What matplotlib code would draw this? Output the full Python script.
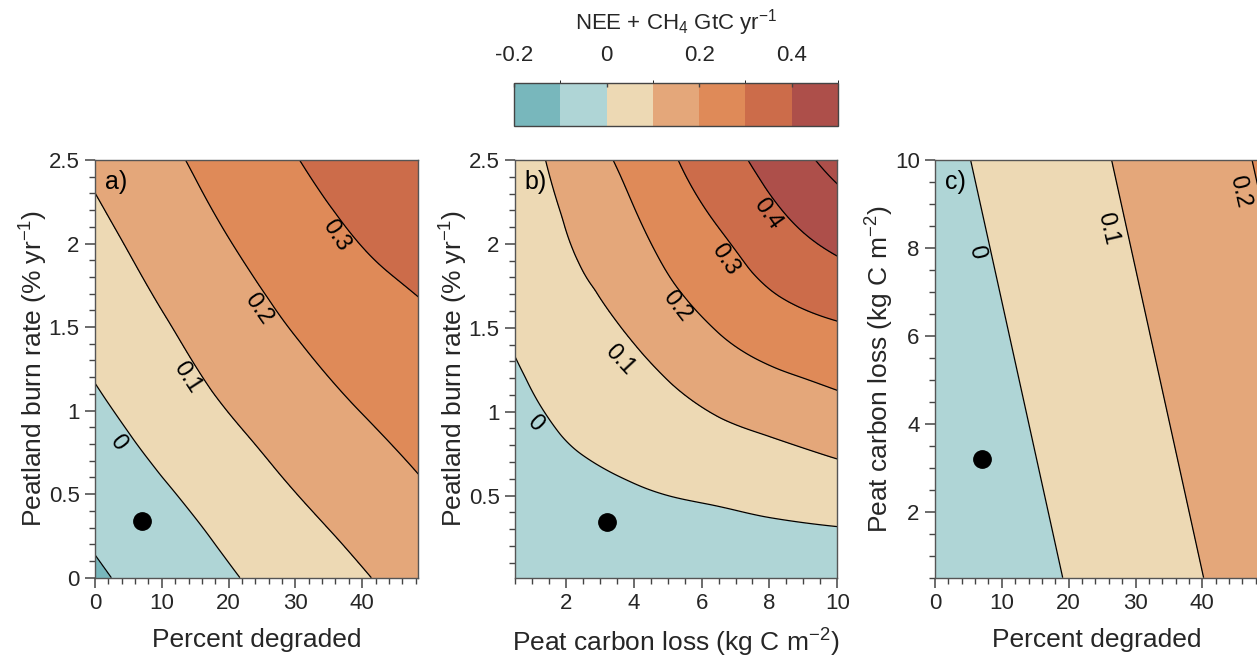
import numpy as np
import matplotlib
matplotlib.use('Agg')
import matplotlib.pyplot as plt
import matplotlib.colorbar as mcolorbar
import matplotlib.tri as mtri
from matplotlib.colors import ListedColormap, BoundaryNorm
from matplotlib.ticker import MultipleLocator, FormatStrFormatter

plt.rcParams['font.family'] = ['Liberation Sans', 'DejaVu Sans']
plt.rcParams['mathtext.fontset'] = 'custom'
plt.rcParams['mathtext.rm'] = 'Liberation Sans'
plt.rcParams['mathtext.it'] = 'Liberation Sans:italic'
plt.rcParams['axes.unicode_minus'] = False

# --- data (NEE + CH4, GtC/yr) ---
# a) percent degraded vs burn rate
pct_a = [0, 8, 16, 24, 32, 40, 48.4]
burn_a = [0, 0.5, 1.0, 1.5, 2.0, 2.5]
flux_a = [
    [-0.113, -0.071, -0.030, 0.012, 0.052, 0.093, 0.135],
    [-0.065, -0.022, 0.021, 0.066, 0.109, 0.148, 0.188],
    [-0.016, 0.031, 0.079, 0.123, 0.165, 0.202, 0.236],
    [0.031, 0.079, 0.127, 0.174, 0.215, 0.252, 0.283],
    [0.074, 0.123, 0.173, 0.219, 0.261, 0.302, 0.330],
    [0.117, 0.166, 0.215, 0.262, 0.308, 0.350, 0.378],
]

# b) peat carbon loss vs burn rate
closs_b = [0.5, 1.5, 2.5, 3.5, 5, 6.5, 8, 10]
burn_b = [0, 0.25, 0.5, 0.75, 1.0, 1.5, 2.0, 2.5]
flux_b = [
    [-0.069, -0.065, -0.066, -0.067, -0.068, -0.069, -0.072, -0.078],
    [-0.056, -0.048, -0.044, -0.040, -0.034, -0.029, -0.023, -0.016],
    [-0.043, -0.031, -0.022, -0.013, 0.000, 0.011, 0.026, 0.046],
    [-0.030, -0.014, 0.001, 0.014, 0.036, 0.059, 0.078, 0.108],
    [-0.017, 0.003, 0.024, 0.041, 0.072, 0.106, 0.134, 0.170],
    [0.009, 0.037, 0.069, 0.096, 0.150, 0.206, 0.252, 0.290],
    [0.034, 0.071, 0.115, 0.151, 0.225, 0.286, 0.349, 0.418],
    [0.060, 0.105, 0.160, 0.205, 0.284, 0.358, 0.432, 0.531],
]

# c) percent degraded vs peat carbon loss
pct_c = [0, 24, 48.4]
closs_c = [0.5, 5, 10]
flux_c = [
    [-0.0905, 0.0232, 0.139],
    [-0.0596, 0.0541, 0.170],
    [-0.0252, 0.0885, 0.2046],
]

# present-day estimate (black dot)
cur_pct = 7.0
cur_burn = 0.34
cur_closs = 3.2

fill_levels = [-0.2, -0.1, 0, 0.1, 0.2, 0.3, 0.4, 0.5, 0.6]
cmap_colors = ['#78b7bc', '#afd5d6', '#edd9b4', '#e4a77a',
               '#df8a58', '#cc6c4a', '#ad4f4a']
cbar_ticks = [-0.2, 0, 0.2, 0.4]

txt_col = '#262626'
W, H = 1257, 662
fig = plt.figure(figsize=(W / 100, H / 100), dpi=100)


def add_ax(x0, x1, y0=160, y1=577.7):
    return fig.add_axes([x0 / W, 1 - y1 / H, (x1 - x0) / W, (y1 - y0) / H])


def style(ax):
    for s in ax.spines.values():
        s.set_color('#555555')
        s.set_linewidth(1.0)
    ax.tick_params(which='both', direction='out', colors='#444444',
                   labelcolor=txt_col, labelsize=16, top=False, right=False)
    ax.tick_params(which='major', length=7, width=1.1, pad=4)
    ax.tick_params(which='minor', length=4, width=1.0)
    ax.xaxis.set_major_formatter(FormatStrFormatter('%g'))
    ax.yaxis.set_major_formatter(FormatStrFormatter('%g'))


def panel(ax, x, y, z, line_levels, labels, letter):
    # smooth the coarse grid with matplotlib's own cubic tri interpolation
    x = np.asarray(x, float)
    y = np.asarray(y, float)
    gx, gy = np.meshgrid((x - x[0]) / (x[-1] - x[0]),
                         (y - y[0]) / (y[-1] - y[0]))
    zz = np.asarray(z, float).ravel()
    tri = mtri.Triangulation(gx.ravel(), gy.ravel())
    interp = mtri.CubicTriInterpolator(tri, zz, kind='min_E')
    tri_f, z_f = mtri.UniformTriRefiner(tri).refine_field(
        zz, triinterpolator=interp, subdiv=4)
    tri_d = mtri.Triangulation(tri_f.x * (x[-1] - x[0]) + x[0],
                               tri_f.y * (y[-1] - y[0]) + y[0],
                               tri_f.triangles)
    ax.tricontourf(tri_d, z_f, levels=fill_levels,
                   colors=cmap_colors + [cmap_colors[-1]])
    ax.tricontour(tri_d, z_f, levels=line_levels, colors='k',
                  linewidths=0.9, linestyles='solid')
    for txt, lx, ly, rot in labels:
        ax.text(lx, ly, txt, rotation=rot, rotation_mode='anchor',
                ha='center', va='center', fontsize=17, color='k')
    ax.text(0.03, 0.975, letter, transform=ax.transAxes, ha='left', va='top',
            fontsize=18, color='k')
    style(ax)


# a)
ax1 = add_ax(95, 418.3)
panel(ax1, pct_a, burn_a, flux_a, [-0.1, 0, 0.1, 0.2, 0.3],
      [('0', 3.35, 0.81, -53), ('0.1', 13.8, 1.2, -57),
       ('0.2', 24.4, 1.61, -55), ('0.3', 36.1, 2.05, -57)], 'a)')
ax1.plot(cur_pct, cur_burn, 'o', color='k', ms=12.5)
ax1.set_xlim(0, 48.4)
ax1.set_ylim(0, 2.5)
ax1.set_xticks([0, 10, 20, 30, 40])
ax1.set_yticks([0, 0.5, 1, 1.5, 2, 2.5])
ax1.xaxis.set_minor_locator(MultipleLocator(2))
ax1.yaxis.set_minor_locator(MultipleLocator(0.1))
ax1.set_xlabel('Percent degraded', fontsize=19, color=txt_col, labelpad=10)
ax1.set_ylabel('Peatland burn rate (% yr$^{-1}$)', fontsize=19,
               color=txt_col, labelpad=-1)

# b)
ax2 = add_ax(515, 837.3)
panel(ax2, closs_b, burn_b, flux_b, [0, 0.1, 0.2, 0.3, 0.4, 0.5],
      [('0', 1.09, 0.93, -45), ('0.1', 3.59, 1.31, -47),
       ('0.2', 5.27, 1.63, -52), ('0.3', 6.70, 1.91, -57),
       ('0.4', 7.93, 2.18, -55)], 'b)')
ax2.plot(cur_closs, cur_burn, 'o', color='k', ms=12.5)
ax2.set_xlim(0.5, 10)
ax2.set_ylim(0.01, 2.5)
ax2.set_xticks([2, 4, 6, 8, 10])
ax2.set_yticks([0.5, 1, 1.5, 2, 2.5])
ax2.xaxis.set_minor_locator(MultipleLocator(0.5))
ax2.yaxis.set_minor_locator(MultipleLocator(0.1))
ax2.set_xlabel('Peat carbon loss (kg C m$^{-2}$)', fontsize=19,
               color=txt_col, labelpad=9)
ax2.set_ylabel('Peatland burn rate (% yr$^{-1}$)', fontsize=19,
               color=txt_col, labelpad=-1)

# c)
ax3 = add_ax(935, 1258.5)
panel(ax3, pct_c, closs_c, flux_c, [0, 0.1, 0.2],
      [('0', 6.2, 7.9, -77), ('0.1', 25.8, 8.45, -77),
       ('0.2', 45.6, 9.27, -77)], 'c)')
ax3.plot(cur_pct, cur_closs, 'o', color='k', ms=12.5)
ax3.set_xlim(0, 48.4)
ax3.set_ylim(0.5, 10)
ax3.set_xticks([0, 10, 20, 30, 40])
ax3.set_yticks([2, 4, 6, 8, 10])
ax3.xaxis.set_minor_locator(MultipleLocator(2))
ax3.yaxis.set_minor_locator(MultipleLocator(0.5))
ax3.set_xlabel('Percent degraded', fontsize=19, color=txt_col, labelpad=10)
ax3.set_ylabel('Peat carbon loss (kg C m$^{-2}$)', fontsize=19,
               color=txt_col, labelpad=-1)

# colour bar
cax = fig.add_axes([514 / W, 1 - 126 / H, 324 / W, 43 / H])
cb = mcolorbar.ColorbarBase(cax, cmap=ListedColormap(cmap_colors),
                            norm=BoundaryNorm(fill_levels[:-1], len(cmap_colors)),
                            orientation='horizontal', ticks=cbar_ticks)
cb.outline.set_edgecolor('#444444')
cb.outline.set_linewidth(1.0)
cax.xaxis.set_ticks_position('top')
cax.xaxis.set_major_formatter(FormatStrFormatter('%g'))
cax.tick_params(direction='in', length=3, width=1, colors='#444444',
                labelcolor=txt_col, labelsize=16, pad=12)
fig.text(676 / W, 1 - 23 / H, 'NEE + CH$_4$ GtC yr$^{-1}$', ha='center',
         va='center', fontsize=16, color=txt_col)

fig.savefig('out.png', dpi=100)
